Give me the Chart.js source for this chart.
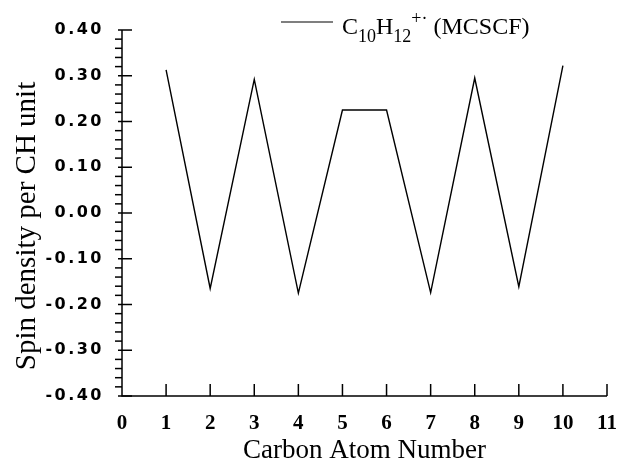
<!DOCTYPE html>
<html>
<head>
<meta charset="utf-8">
<script src="https://cdn.jsdelivr.net/npm/chart.js@4.4.1/dist/chart.umd.min.js"></script>
<style>
  html, body { margin:0; padding:0; background:#fff; }
  #wrap { width:620px; height:467px; }
</style>
</head>
<body>
<div id="wrap"><canvas id="c" width="620" height="467"></canvas></div>
<script>
// ====== Datos ======
const atoms   = [1, 2, 3, 4, 5, 6, 7, 8, 9, 10];
const density = [0.313, -0.165, 0.292, -0.175, 0.225, 0.225, -0.174, 0.295, -0.161, 0.322];
const seriesLabel = 'C10H12+· (MCSCF)';
const xTitle = 'Carbon Atom Number';
const yTitle = 'Spin density per CH unit';

const SERIF = '"Liberation Serif", serif';

// ====== Ejes, ticks, título y y leyenda (estilo SigmaPlot) ======
const axisPlugin = {
  id: 'axisPlugin',
  beforeDraw(chart) {
    // espaciado de letras solo en etiquetas del eje y
    const y = chart.scales.y;
    if (!y._patched) {
      const orig = y.drawLabels;
      y.drawLabels = function(area) {
        const c = this.ctx;
        c.save();
        c.letterSpacing = '2.5px';
        orig.call(this, area);
        c.restore();
      };
      y._patched = true;
    }
  },
  afterDraw(chart) {
    const { ctx, chartArea: a, scales: { x, y } } = chart;
    ctx.save();
    ctx.strokeStyle = '#000';
    ctx.lineWidth = 1.5;
    // ejes
    ctx.beginPath();
    ctx.moveTo(a.left, a.top);
    ctx.lineTo(a.left, a.bottom);
    ctx.lineTo(a.right, a.bottom);
    ctx.stroke();
    // ticks eje y: mayores cruzan, menores hacia fuera
    for (let i = -20; i <= 20; i++) {
      const py = y.getPixelForValue(i * 0.02);
      ctx.beginPath();
      if (i % 5 === 0) {
        ctx.moveTo(a.left - 4, py);
        ctx.lineTo(a.left + 10, py);
      } else {
        ctx.moveTo(a.left - 7, py);
        ctx.lineTo(a.left, py);
      }
      ctx.stroke();
    }
    // ticks eje x hacia dentro
    for (let v = 1; v <= 11; v++) {
      const px = x.getPixelForValue(v);
      ctx.beginPath();
      ctx.moveTo(px, a.bottom);
      ctx.lineTo(px, a.bottom - 12);
      ctx.stroke();
    }

    ctx.fillStyle = '#000';

    // título eje y (algo desplazado hacia abajo respecto al centro)
    ctx.save();
    ctx.translate(27, 226);
    ctx.rotate(-Math.PI / 2);
    ctx.textAlign = 'center';
    ctx.textBaseline = 'middle';
    ctx.font = '29px ' + SERIF;
    ctx.fillText(yTitle, 0, 0);
    ctx.restore();

    // leyenda con subíndices
    const ly = 22;
    ctx.lineWidth = 1.2;
    ctx.beginPath();
    ctx.moveTo(281, ly);
    ctx.lineTo(333, ly);
    ctx.stroke();
    ctx.textBaseline = 'alphabetic';
    ctx.textAlign = 'left';
    const base = 34;
    const big = '24px ' + SERIF;
    const small = '18px ' + SERIF;
    let cx = 342;
    const put = (t, f, dy) => { ctx.font = f; ctx.fillText(t, cx, base + dy); cx += ctx.measureText(t).width; };
    put('C', big, 0);
    put('10', small, 8);
    put('H', big, 0);
    put('12', small, 8);
    put('+·', small, -10);
    put(' (MCSCF)', big, 0);
    ctx.restore();
  }
};

new Chart(document.getElementById('c'), {
  type: 'line',
  data: {
    labels: atoms,
    datasets: [{
      label: seriesLabel,
      data: atoms.map((a, i) => ({ x: a, y: density[i] })),
      borderColor: '#000',
      borderWidth: 1.4,
      pointRadius: 0,
      tension: 0,
      fill: false
    }]
  },
  options: {
    responsive: false,
    animation: false,
    layout: { padding: { left: 0, top: 30, right: 13, bottom: 0 } },
    plugins: { legend: { display: false }, tooltip: { enabled: false } },
    scales: {
      x: {
        type: 'linear',
        min: 0, max: 11,
        grid: { display: false, drawTicks: false },
        border: { display: false },
        ticks: {
          stepSize: 1,
          padding: 15,
          color: '#000',
          font: { family: SERIF, weight: 'bold', size: 21 }
        },
        title: {
          display: true, text: xTitle, color: '#000',
          font: { family: SERIF, size: 27 },
          padding: { top: 0, bottom: 0 }
        },
        afterFit(s) { s.height = 71; s.paddingLeft = 0; s.paddingRight = 0; }
      },
      y: {
        min: -0.4, max: 0.4,
        grid: { display: false, drawTicks: false },
        border: { display: false },
        ticks: {
          stepSize: 0.1,
          padding: 18,
          color: '#000',
          font: { family: '"DejaVu Sans", sans-serif', weight: 'bold', size: 16 },
          callback: v => v.toFixed(2)
        },
        title: { display: false },
        afterFit(s) { s.width = 122; s.paddingTop = 0; s.paddingBottom = 0; }
      }
    }
  },
  plugins: [axisPlugin]
});
</script>
</body>
</html>
